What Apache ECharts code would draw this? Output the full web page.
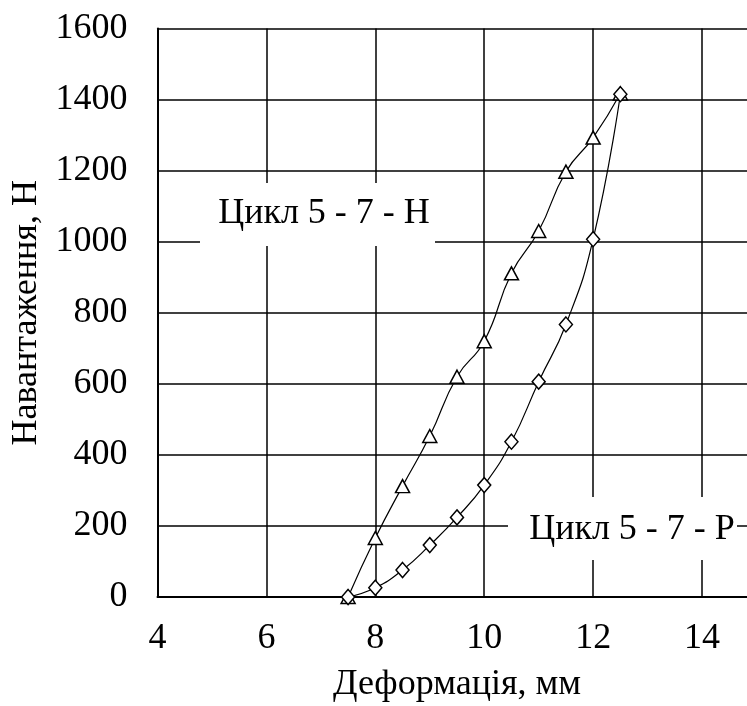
<!DOCTYPE html>
<html>
<head>
<meta charset="utf-8">
<script src="https://cdn.jsdelivr.net/npm/echarts@6/dist/echarts.min.js"></script>
<style>html,body{margin:0;padding:0;background:#fff}#c{width:747px;height:706px}</style>
</head>
<body>
<div id="c"></div>
<script>
// Loading branch (triangles): deformation (mm) and load (N)
const loadX = [7.5, 8.0, 8.5, 9.0, 9.5, 10.0, 10.5, 11.0, 11.5, 12.0, 12.5];
const loadY = [0, 166, 312, 453, 620, 720, 911, 1030, 1197, 1293, 1417];
// Unloading branch (diamonds)
const unloadX = [12.5, 12.0, 11.5, 11.0, 10.5, 10.0, 9.5, 9.0, 8.5, 8.0, 7.5];
const unloadY = [1415, 1007, 767, 606, 437, 315, 224, 146, 76, 26, 0];
const seriesNames = ['Цикл 5 - 7 - Н', 'Цикл 5 - 7 - Р'];
const xTitle = 'Деформація, мм';
const yTitle = 'Навантаження, Н';

const FONT = 'Liberation Serif';
const FS = 36;

const chart = echarts.init(document.getElementById('c'), null, {renderer: 'canvas'});
const pair = (xs, ys) => xs.map((x, i) => [x, ys[i]]);

const marker = {color: '#fff', borderColor: '#000', borderWidth: 1.5};

chart.setOption({
  animation: false,
  backgroundColor: '#fff',
  grid: {left: 157.5, top: 28.5, width: 599, bottom: 109, containLabel: false, outerBoundsMode: 'none'},
  xAxis: {
    type: 'value', min: 4, max: 15, interval: 2,
    name: xTitle, nameLocation: 'middle', nameGap: 70,
    nameTextStyle: {fontFamily: FONT, fontSize: FS, color: '#000'},
    axisLine: {show: true, lineStyle: {color: '#000', width: 2}},
    axisTick: {show: false},
    axisLabel: {fontFamily: FONT, fontSize: FS, color: '#000', margin: 24,
      formatter: v => (v % 2 === 0 ? String(v) : '')},
    splitLine: {show: true, lineStyle: {color: '#000', width: 1.5}}
  },
  yAxis: {
    type: 'value', min: 0, max: 1600, interval: 200,
    name: yTitle, nameLocation: 'middle', nameGap: 111,
    nameTextStyle: {fontFamily: FONT, fontSize: FS, color: '#000'},
    axisLine: {show: true, lineStyle: {color: '#000', width: 2}},
    axisTick: {show: false},
    axisLabel: {fontFamily: FONT, fontSize: FS, color: '#000', margin: 30,
      formatter: v => String(v)},
    splitLine: {show: true, lineStyle: {color: '#000', width: 1.5}}
  },
  series: [
    {
      name: seriesNames[0], type: 'line', data: pair(loadX, loadY), smooth: 0.5,
      symbol: 'triangle', symbolSize: [14, 13], showAllSymbol: true,
      lineStyle: {color: '#000', width: 1.2}, itemStyle: marker, z: 5
    },
    {
      name: seriesNames[1], type: 'line', data: pair(unloadX, unloadY), smooth: 0.5,
      symbol: 'diamond', symbolSize: [13, 15], showAllSymbol: true,
      lineStyle: {color: '#000', width: 1.2}, itemStyle: marker, z: 5
    }
  ],
  graphic: [
    {type: 'rect', shape: {x: 200, y: 183, width: 235, height: 63}, style: {fill: '#fff'}, z: 10},
    {type: 'text', x: 324, y: 214, z: 11,
      style: {text: seriesNames[0], font: FS + 'px "' + FONT + '"', fill: '#000', align: 'center', verticalAlign: 'middle'}},
    {type: 'rect', shape: {x: 508, y: 497, width: 229, height: 63}, style: {fill: '#fff'}, z: 10},
    {type: 'text', x: 632, y: 530, z: 11,
      style: {text: seriesNames[1], font: FS + 'px "' + FONT + '"', fill: '#000', align: 'center', verticalAlign: 'middle'}}
  ]
});
</script>
</body>
</html>
